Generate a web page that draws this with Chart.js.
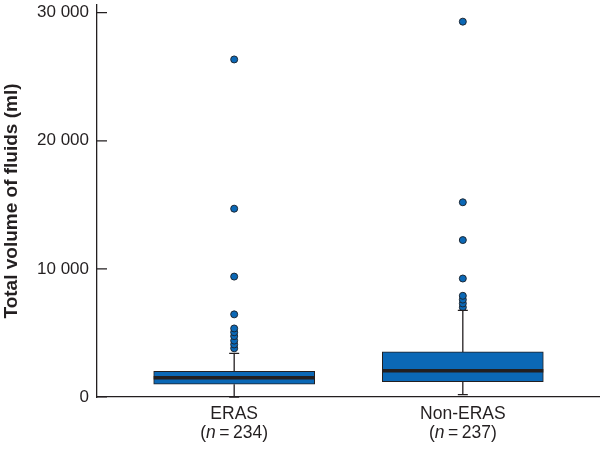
<!DOCTYPE html>
<html>
<head>
<meta charset="utf-8">
<script src="https://cdn.jsdelivr.net/npm/chart.js@4.4.0/dist/chart.umd.min.js"></script>
<style>
  html, body { margin: 0; padding: 0; background: #fff; overflow: hidden; }
  #wrap { width: 605px; height: 453px; }
</style>
</head>
<body>
<div id="wrap"><canvas id="fluids"></canvas></div>
<script>
// box plot data
const categories = ['ERAS', 'Non-ERAS'];
const groupN = [234, 237];
const q1 = [1000, 1190];
const median = [1500, 2040];
const q3 = [2000, 3520];
const whiskerLow = [0, 180];
const whiskerHigh = [3400, 6760];
const outliersEras = [3800, 4100, 4400, 4750, 5050, 5350, 6450, 9400, 14700, 26350];
const outliersNonEras = [7000, 7300, 7600, 7900, 9250, 12250, 15200, 29300];
const yTicks = [0, 10000, 20000, 30000];

const INK = '#231f20';
const BLUE = '#0b68b6';
const FONT = "'Liberation Sans', Arial, sans-serif";

const fmt = v => String(v).replace(/\B(?=(\d{3})+(?!\d))/g, ' ');

const boxData = categories.map((c, i) => ({ x: i + 1, y: [q1[i], q3[i]] }));
const outlierData = [outliersEras, outliersNonEras]
  .flatMap((arr, i) => arr.map(v => ({ x: i + 1, y: v })));

// whiskers, medians, inward y ticks and the two-line x labels
const boxExtras = {
  id: 'boxExtras',
  afterDatasetsDraw(chart) {
    const { ctx, scales: { x, y } } = chart;
    const half = chart.getDatasetMeta(0).data[0].width / 2;
    ctx.save();
    ctx.strokeStyle = INK;
    categories.forEach((c, i) => {
      const cx = x.getPixelForValue(i + 1);
      ctx.lineWidth = 1.3;
      ctx.beginPath();
      ctx.moveTo(cx, y.getPixelForValue(q3[i]));
      ctx.lineTo(cx, y.getPixelForValue(whiskerHigh[i]));
      ctx.moveTo(cx, y.getPixelForValue(q1[i]));
      ctx.lineTo(cx, y.getPixelForValue(whiskerLow[i]));
      [whiskerHigh[i], whiskerLow[i]].forEach(w => {
        const wy = y.getPixelForValue(w);
        ctx.moveTo(cx - 5, wy);
        ctx.lineTo(cx + 5, wy);
      });
      ctx.stroke();
      ctx.lineWidth = 3.5;
      ctx.beginPath();
      const my = y.getPixelForValue(median[i]);
      ctx.moveTo(cx - half, my);
      ctx.lineTo(cx + half, my);
      ctx.stroke();
    });
    ctx.restore();
  },
  afterDraw(chart) {
    const { ctx, scales: { x, y }, chartArea } = chart;
    ctx.save();
    ctx.strokeStyle = INK;
    ctx.lineWidth = 1.2;
    ctx.beginPath();
    yTicks.forEach(v => {
      const ty = y.getPixelForValue(v);
      ctx.moveTo(chartArea.left, ty);
      ctx.lineTo(chartArea.left + 10, ty);
    });
    ctx.stroke();

    ctx.fillStyle = INK;
    ctx.textBaseline = 'middle';
    const size = 17.5;
    categories.forEach((c, i) => {
      const cx = x.getPixelForValue(i + 1);
      ctx.font = `${size}px ${FONT}`;
      ctx.textAlign = 'center';
      ctx.fillText(c, cx, chartArea.bottom + 17);
      const a = '(', n = 'n', b = '\u2009=\u2009' + groupN[i] + ')';
      const wa = ctx.measureText(a).width, wb = ctx.measureText(b).width;
      ctx.font = `italic ${size}px ${FONT}`;
      const wn = ctx.measureText(n).width;
      const sx = cx - (wa + wn + wb) / 2;
      const ly = chartArea.bottom + 36;
      ctx.textAlign = 'left';
      ctx.font = `${size}px ${FONT}`;
      ctx.fillText(a, sx, ly);
      ctx.font = `italic ${size}px ${FONT}`;
      ctx.fillText(n, sx + wa, ly);
      ctx.font = `${size}px ${FONT}`;
      ctx.fillText(b, sx + wa + wn, ly);
    });
    ctx.restore();
  }
};

new Chart(document.getElementById('fluids'), {
  type: 'bar',
  data: {
    datasets: [
      {
        type: 'bar',
        data: boxData,
        backgroundColor: BLUE,
        borderColor: INK,
        borderWidth: 1,
        borderSkipped: false,
        barThickness: 161,
        grouped: false
      },
      {
        type: 'scatter',
        data: outlierData,
        backgroundColor: BLUE,
        borderColor: '#1c2733',
        borderWidth: 1,
        pointRadius: 3.5
      }
    ]
  },
  options: {
    responsive: true,
    maintainAspectRatio: false,
    animation: false,
    layout: { padding: { top: 3, right: 0, left: 0, bottom: 0 } },
    plugins: { legend: { display: false }, tooltip: { enabled: false } },
    scales: {
      x: {
        type: 'linear',
        min: 0.4,
        max: 2.6,
        offset: false,
        grid: { display: false },
        border: { display: true, color: INK, width: 1.3 },
        ticks: { display: false },
        afterFit: s => { s.height = 56; s.paddingLeft = 0; s.paddingRight = 0; }
      },
      y: {
        min: 0,
        max: 30600,
        grid: { display: false },
        border: { display: true, color: INK, width: 1.3 },
        afterBuildTicks: s => { s.ticks = yTicks.map(v => ({ value: v })); },
        ticks: {
          padding: 0,
          color: INK,
          font: { family: FONT, size: 17 },
          callback: v => fmt(v)
        },
        title: {
          display: true,
          text: 'Total volume of fluids (ml)',
          color: INK,
          padding: 0,
          font: { family: FONT, size: 19, weight: 'bold' }
        },
        afterFit: s => { s.width = 97; s.paddingTop = 0; s.paddingBottom = 0; }
      }
    }
  },
  plugins: [boxExtras]
});
</script>
</body>
</html>
